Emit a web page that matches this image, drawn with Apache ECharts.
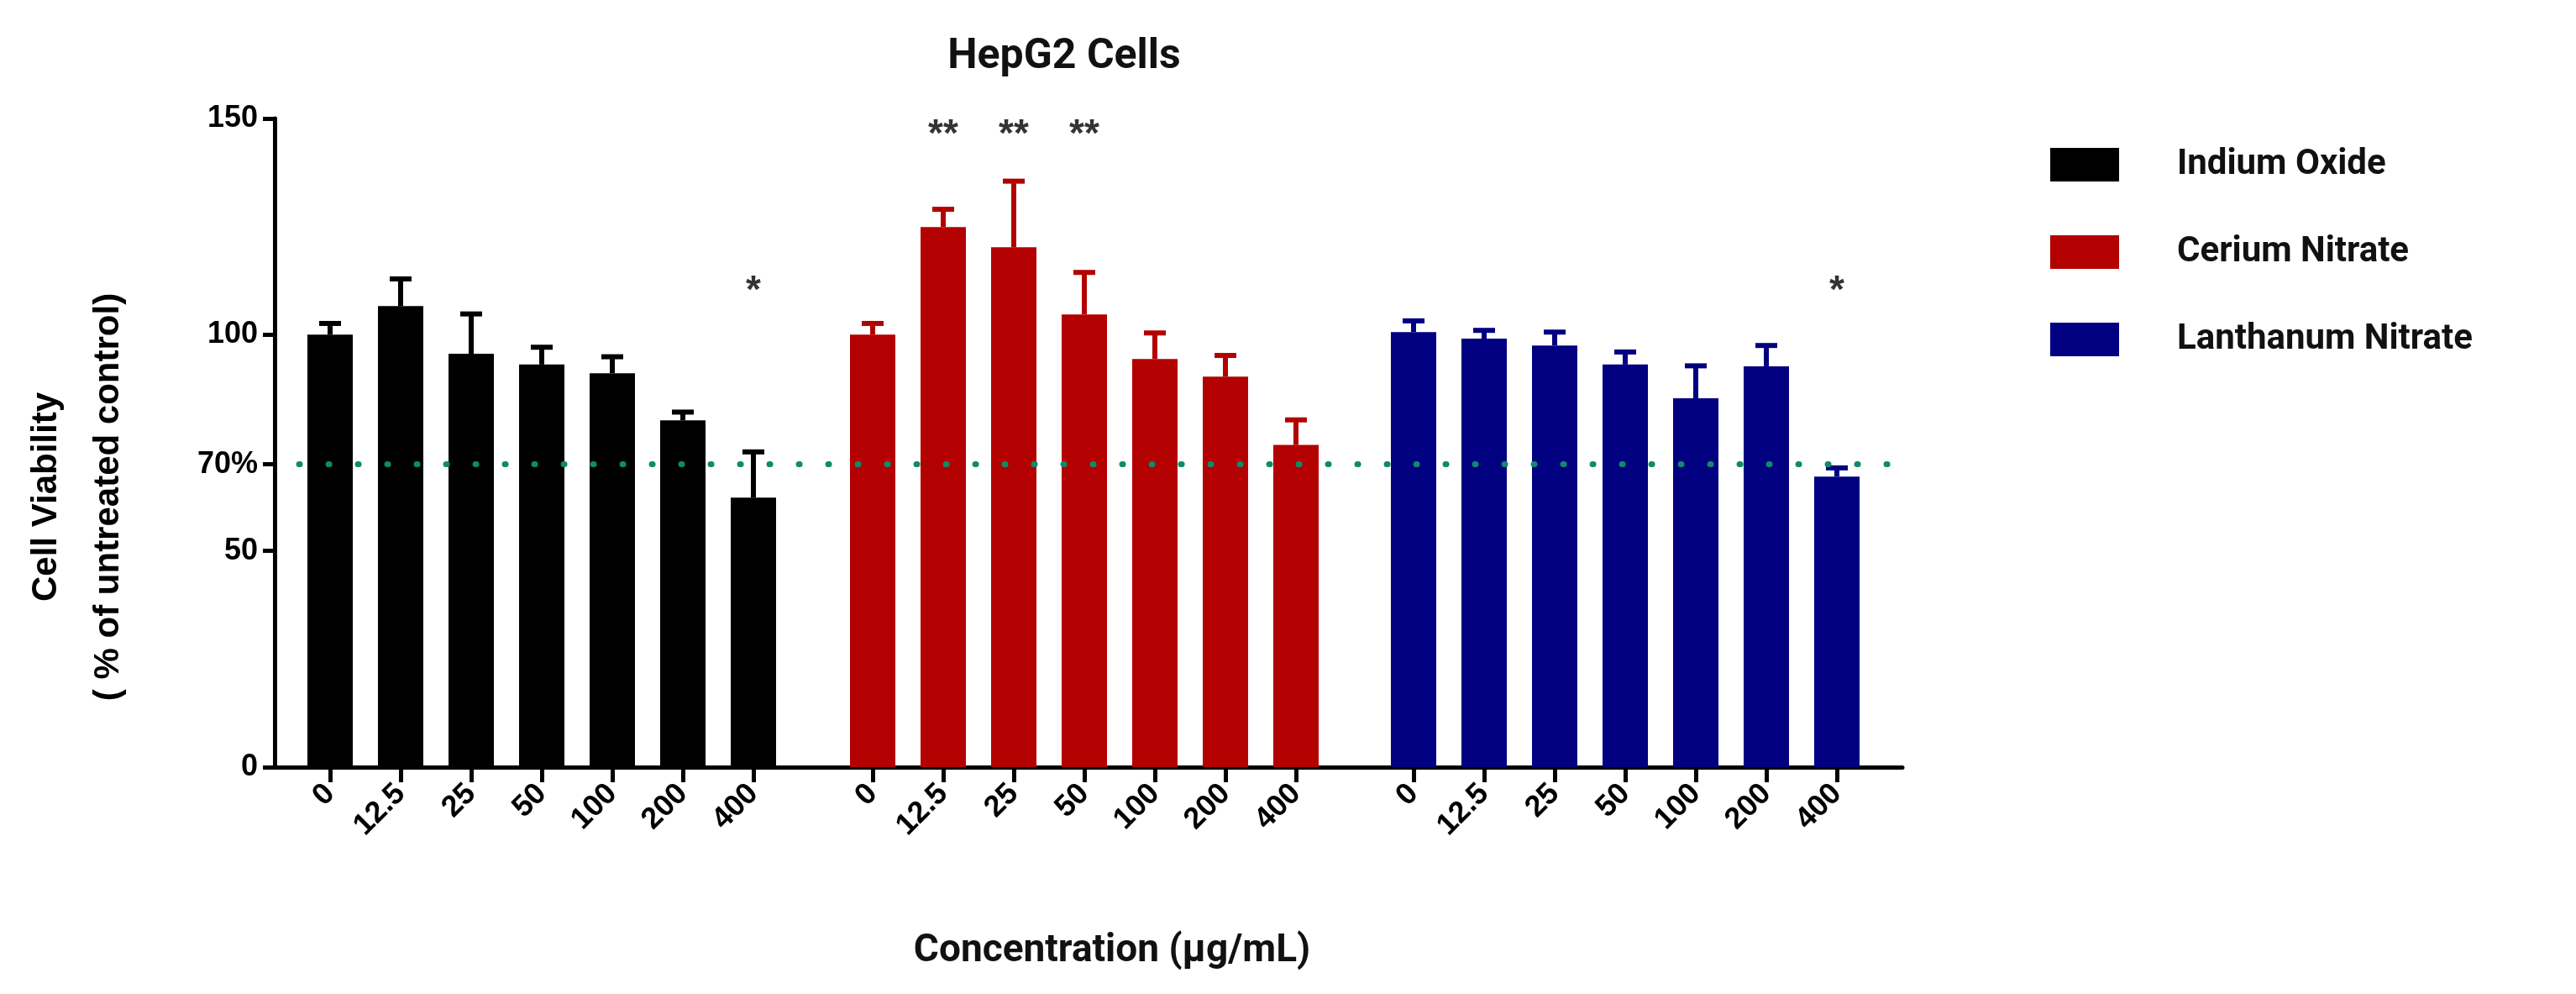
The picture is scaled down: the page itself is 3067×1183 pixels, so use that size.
<!DOCTYPE html>
<html>
<head>
<meta charset="utf-8">
<script src="https://cdn.jsdelivr.net/npm/echarts@6/dist/echarts.min.js"></script>
<style>html,body{margin:0;background:#fff}#c{width:3067px;height:1183px}</style>
</head>
<body>
<div id="c"></div>
<script>
// 数据
const doses = ['0', '12.5', '25', '50', '100', '200', '400'];
const groupNames = ['Indium Oxide', 'Cerium Nitrate', 'Lanthanum Nitrate'];
const groupColors = ['#000000', '#b30000', '#000080'];
const indiumMean = [100, 106.6, 95.6, 93.1, 91.1, 80.2, 62.3];
const indiumTop = [102.6, 112.9, 104.8, 97.1, 94.9, 82.1, 72.9];
const ceriumMean = [100, 124.9, 120.2, 104.7, 94.4, 90.3, 74.5];
const ceriumTop = [102.6, 129, 135.5, 114.4, 100.4, 95.2, 80.3];
const lanthanumMean = [100.6, 99.1, 97.5, 93.1, 85.3, 92.7, 67.2];
const lanthanumTop = [103.2, 101, 100.6, 96, 92.8, 97.5, 69.2];
const indiumStars = ['', '', '', '', '', '', '*'];
const ceriumStars = ['', '**', '**', '**', '', '', ''];
const lanthanumStars = ['', '', '', '', '', '', '*'];
const starLevel = [110, 146, 110];
const cutoff = 70;
const yTicks = [0, 50, 70, 100, 150];

const means = [indiumMean, ceriumMean, lanthanumMean];
const tops = [indiumTop, ceriumTop, lanthanumTop];
const stars = [indiumStars, ceriumStars, lanthanumStars];

const FONT = '"Liberation Sans", Arial, sans-serif';
const TOP = 141, BOTTOM = 270;
// 三组各自的绘图区（像素）
const groupLeft = [351, 997, 1641];
const groupWidth = 588;

const grids = [{ left: 327, right: 802, top: TOP, bottom: BOTTOM }];
groupLeft.forEach(l => grids.push({ left: l, width: groupWidth, top: TOP, bottom: BOTTOM }));

const xAxes = [{
  gridIndex: 0, type: 'value', min: 0, max: 1, show: true,
  axisLine: { lineStyle: { color: '#000', width: 5 } },
  axisTick: { show: false }, axisLabel: { show: false }, splitLine: { show: false }
}];
const yAxes = [{
  gridIndex: 0, type: 'value', min: 0, max: 150,
  axisLine: { show: true, lineStyle: { color: '#000', width: 5 } },
  axisTick: { show: true, length: 14, lineStyle: { width: 5 }, customValues: yTicks },
  axisLabel: {
    customValues: yTicks, margin: 20, color: '#000', fontSize: 36, fontWeight: 'bold', fontFamily: FONT,
    formatter: v => v === cutoff ? '70%' : String(v)
  },
  splitLine: { show: false }
}];
groupLeft.forEach((_, g) => {
  xAxes.push({
    gridIndex: g + 1, type: 'category', data: doses,
    axisLine: { show: false },
    axisTick: { show: true, alignWithLabel: true, length: 18, lineStyle: { color: '#000', width: 5 } },
    axisLabel: { rotate: 45, margin: 26, color: '#000', fontSize: 36, fontWeight: 'bold', fontFamily: FONT }
  });
  yAxes.push({ gridIndex: g + 1, type: 'value', min: 0, max: 150, show: false });
});

const series = [{
  type: 'line', xAxisIndex: 0, yAxisIndex: 0, data: [], silent: true,
  markLine: {
    symbol: 'none', silent: true, label: { show: false },
    lineStyle: { color: '#0e8a6e', width: 7, type: [1, 34], cap: 'round', opacity: 1 },
    data: [[{ coord: [0.015, cutoff] }, { coord: [1, cutoff] }]]
  }
}];

groupNames.forEach((name, g) => {
  series.push({
    name, type: 'bar', xAxisIndex: g + 1, yAxisIndex: g + 1, barWidth: 54,
    itemStyle: { color: groupColors[g] }, data: means[g], z: 3
  });
  series.push({
    type: 'custom', xAxisIndex: g + 1, yAxisIndex: g + 1, z: 4, silent: true,
    data: means[g].map((m, i) => [i, m, tops[g][i]]),
    renderItem: (params, api) => {
      const base = api.coord([api.value(0), api.value(1)]);
      const top = api.coord([api.value(0), api.value(2)]);
      const style = { stroke: groupColors[g], lineWidth: 6 };
      return {
        type: 'group', children: [
          { type: 'line', shape: { x1: base[0], y1: base[1], x2: top[0], y2: top[1] }, style },
          { type: 'line', shape: { x1: top[0] - 13, y1: top[1], x2: top[0] + 13, y2: top[1] }, style }
        ]
      };
    }
  });
  series.push({
    type: 'scatter', xAxisIndex: g + 1, yAxisIndex: g + 1, symbolSize: 0, silent: true,
    data: stars[g].map((s, i) => ({ value: [i, starLevel[g]], label: { show: s !== '', formatter: s } })),
    label: { position: 'inside', color: '#000', fontSize: 46, fontWeight: 'bold', fontFamily: FONT }
  });
});

const chart = echarts.init(document.getElementById('c'));
chart.setOption({
  animation: false,
  title: {
    text: 'HepG2 Cells', left: 1262, top: 38, textAlign: 'center',
    textStyle: { fontSize: 50, fontWeight: 'bold', fontFamily: 'Roboto, sans-serif', color: '#111' }
  },
  legend: {
    data: groupNames, orient: 'vertical', left: 2436, top: 170,
    itemWidth: 82, itemHeight: 40, itemGap: 62,
    icon: 'rect',
    textStyle: { fontSize: 42, fontWeight: 'bold', fontFamily: 'Roboto, sans-serif', color: '#111', padding: [0, 0, 0, 64] }
  },
  graphic: [
    {
      type: 'text', left: 18, top: 'middle', rotation: Math.PI / 2, originX: 0,
      style: {
        x: 0, y: 0,
        text: 'Cell Viability\n( % of untreated control)', textAlign: 'center', textVerticalAlign: 'middle',
        font: 'bold 42px ' + FONT, lineHeight: 74, fill: '#000'
      },
      position: [86, 530]
    },
    {
      type: 'text', position: [1324, 1132],
      style: {
        text: 'Concentration (µg/mL)', textAlign: 'center', textVerticalAlign: 'middle',
        font: 'bold 46px Roboto, sans-serif', fill: '#111'
      }
    }
  ],
  grid: grids, xAxis: xAxes, yAxis: yAxes, series
});
</script>
</body>
</html>
